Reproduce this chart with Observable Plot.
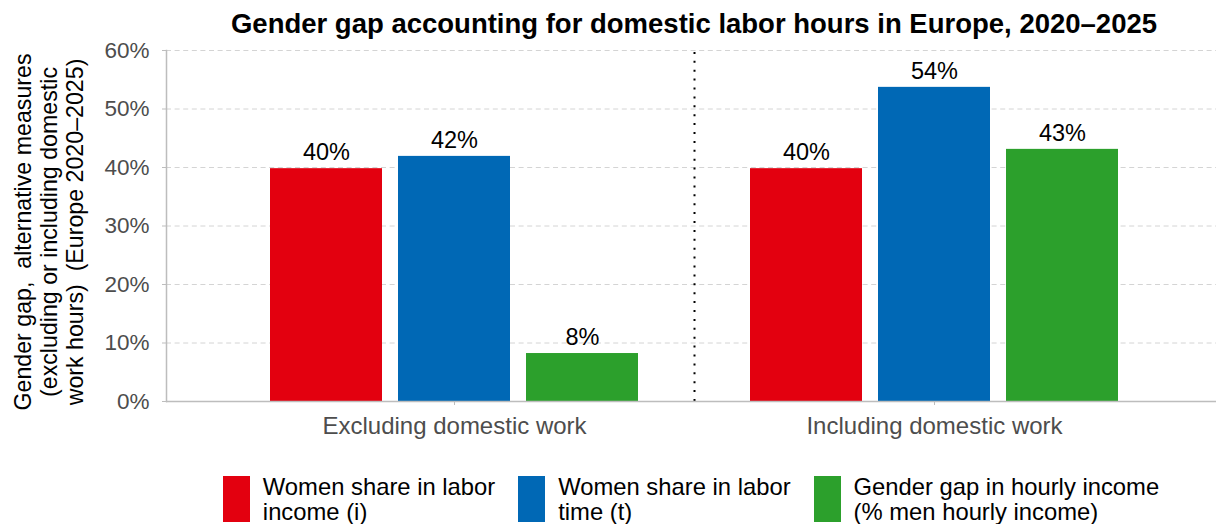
<!DOCTYPE html>
<html>
<head>
<meta charset="utf-8">
<script src="https://cdn.jsdelivr.net/npm/d3@7"></script>
<script src="https://cdn.jsdelivr.net/npm/@observablehq/plot@0.6"></script>
<style>
  html, body { margin: 0; padding: 0; background: #fff; }
  body { font-family: "Liberation Sans", Arial, Helvetica, sans-serif; width: 1219px; }
  #title { margin-left: 169px; width: 1050px; height: 43px; box-sizing: border-box; padding-top: 5px;
           line-height: 38px; font-size: 27.5px; font-weight: bold; text-align: center; color: #000; white-space: nowrap; }
  #legend { margin-left: 166px; width: 1050px; padding-top: 29px; display: flex; justify-content: center; gap: 23px; }
  .item { display: flex; align-items: flex-start; }
  .key { width: 27px; height: 46px; margin-top: 2px; flex: none; }
  .lab { margin-left: 13px; font-size: 23.8px; line-height: 25px; color: #000; white-space: nowrap; }
</style>
</head>
<body>
<div id="title"></div>
<div id="chart"></div>
<div id="legend"></div>
<script>
// ---- data ----
const titleText = "Gender gap accounting for domestic labor hours in Europe, 2020\u20132025";
const groups = ["Excluding domestic work", "Including domestic work"];
const seriesNames = [
  "Women share in labor\nincome (i)",
  "Women share in labor\ntime (t)",
  "Gender gap in hourly income\n(% men hourly income)"
];
const womenIncomeShare = [0.398, 0.398];
const womenTimeShare   = [0.419, 0.537];
const hourlyIncomeGap  = [0.082, 0.431];
const yTicks = [0, 0.1, 0.2, 0.3, 0.4, 0.5, 0.6];
const yTitle = "Gender gap,  alternative measures\n(excluding or including domestic\nwork hours)  (Europe 2020\u20132025)";

// ---- styles ----
const colors = ["#e3000f", "#0068b5", "#2ca02c"];
const seriesValues = [womenIncomeShare, womenTimeShare, hourlyIncomeGap];
const barStep = 128, barInset = 184;
const pct = d3.format(".0%");

document.getElementById("title").textContent = titleText;

const marks = [
  Plot.ruleY(yTicks.slice(1), {stroke: "#d4d4d4", strokeWidth: 1, strokeDasharray: "5,3.6"}),
  Plot.ruleX([groups[1]], {dx: -240, y1: 0, y2: 0.6, stroke: "#000", strokeWidth: 2, strokeDasharray: "2,6.9"})
];
seriesValues.forEach((vals, k) => {
  const rows = groups.map((g, i) => ({group: g, value: vals[i]}));
  marks.push(Plot.barY(rows, {x: "group", y: "value", fill: colors[k], dx: (k - 1) * barStep,
    insetLeft: barInset, insetRight: barInset}));
  marks.push(Plot.text(rows, {x: "group", y: "value", text: d => pct(d.value), dx: (k - 1) * barStep, dy: -8.5,
    lineAnchor: "bottom", fontSize: 23.5, fill: "#000"}));
});
marks.push(
  Plot.frame({anchor: "left", stroke: "#bdbdbd", strokeWidth: 1.5}),
  Plot.ruleY([0], {stroke: "#bdbdbd", strokeWidth: 1.5}),
  Plot.axisY({ticks: yTicks, tickFormat: pct, tickSize: 4, tickPadding: 13, fontSize: 22.5,
    color: "#4d4d4d", stroke: "#bdbdbd", label: null}),
  Plot.axisX({tickSize: 4, tickPadding: 11, fontSize: 24, color: "#4d4d4d", stroke: "#bdbdbd", label: null}),
  Plot.text([yTitle], {text: d => d, frameAnchor: "left", rotate: -90, dx: -118, dy: 6,
    fontSize: 23.2, lineHeight: 1.13, textAnchor: "middle", lineAnchor: "middle", fill: "#000"})
);

const chart = Plot.plot({
  width: 1219,
  height: 402,
  marginTop: 7,
  marginBottom: 44,
  marginLeft: 166,
  marginRight: 3,
  style: {fontFamily: "Liberation Sans, Arial, sans-serif", overflow: "visible", background: "transparent"},
  x: {type: "band", domain: groups, range: [214, 1174], padding: 0},
  y: {domain: [0, 0.6]},
  marks
});
document.getElementById("chart").appendChild(chart);

const legend = document.getElementById("legend");
seriesNames.forEach((name, k) => {
  const item = document.createElement("div");
  item.className = "item";
  const key = document.createElement("div");
  key.className = "key";
  key.style.background = colors[k];
  const lab = document.createElement("div");
  lab.className = "lab";
  name.split("\n").forEach((line, j) => {
    if (j) lab.appendChild(document.createElement("br"));
    lab.appendChild(document.createTextNode(line));
  });
  item.appendChild(key);
  item.appendChild(lab);
  legend.appendChild(item);
});
</script>
</body>
</html>
